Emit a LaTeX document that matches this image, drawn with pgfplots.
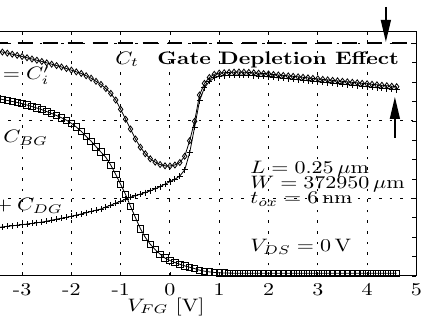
\documentclass[border=0pt]{standalone}
\usepackage{pgfplots}
\pgfplotsset{compat=1.18}
\usepackage{pgfplotstable}
\usepackage{graphicx}
\usetikzlibrary{arrows.meta}
\newcommand{\T}[1]{\scalebox{1.1}[0.9]{#1}}

\pgfplotstableread{
V gg bg sd
-3.6 2.920 2.300 0.617
-3.5 2.905 2.290 0.625
-3.4 2.890 2.278 0.633
-3.3 2.876 2.265 0.641
-3.2 2.862 2.252 0.648
-3.1 2.847 2.239 0.654
-3.0 2.832 2.225 0.662
-2.9 2.816 2.206 0.670
-2.8 2.800 2.187 0.678
-2.7 2.784 2.167 0.687
-2.6 2.768 2.146 0.695
-2.5 2.750 2.121 0.708
-2.4 2.733 2.097 0.720
-2.3 2.715 2.070 0.733
-2.2 2.697 2.042 0.746
-2.1 2.677 2.010 0.756
-2.0 2.656 1.970 0.771
-1.9 2.634 1.922 0.785
-1.8 2.613 1.867 0.800
-1.7 2.584 1.800 0.816
-1.6 2.553 1.740 0.832
-1.5 2.512 1.668 0.848
-1.4 2.472 1.599 0.864
-1.3 2.418 1.530 0.890
-1.2 2.356 1.430 0.914
-1.1 2.270 1.310 0.940
-1.0 2.150 1.182 0.963
-0.9 2.022 1.052 0.990
-0.8 1.896 0.898 1.017
-0.7 1.768 0.753 1.037
-0.6 1.662 0.610 1.056
-0.5 1.577 0.498 1.077
-0.4 1.512 0.410 1.098
-0.3 1.469 0.340 1.125
-0.2 1.438 0.282 1.153
-0.1 1.421 0.231 1.185
0.0 1.419 0.200 1.217
0.1 1.432 0.174 1.248
0.2 1.464 0.151 1.290
0.3 1.545 0.130 1.370
0.4 1.745 0.113 1.590
0.5 1.995 0.095 1.920
0.6 2.335 0.075 2.260
0.7 2.485 0.062 2.430
0.8 2.562 0.053 2.510
0.9 2.602 0.046 2.556
1.0 2.618 0.041 2.577
1.1 2.623 0.039 2.584
1.2 2.627 0.037 2.589
1.3 2.630 0.036 2.592
1.4 2.632 0.036 2.594
1.5 2.630 0.036 2.593
1.6 2.627 0.036 2.590
1.7 2.622 0.036 2.585
1.8 2.617 0.036 2.580
1.9 2.612 0.036 2.575
2.0 2.607 0.036 2.570
2.1 2.600 0.036 2.563
2.2 2.594 0.036 2.557
2.3 2.588 0.036 2.551
2.4 2.582 0.036 2.545
2.5 2.576 0.036 2.539
2.6 2.570 0.036 2.533
2.7 2.564 0.036 2.527
2.8 2.557 0.036 2.520
2.9 2.550 0.036 2.513
3.0 2.544 0.036 2.507
3.1 2.537 0.035 2.500
3.2 2.531 0.035 2.494
3.3 2.525 0.035 2.488
3.4 2.518 0.035 2.481
3.5 2.512 0.035 2.475
3.6 2.506 0.035 2.469
3.7 2.499 0.035 2.462
3.8 2.493 0.035 2.456
3.9 2.486 0.035 2.449
4.0 2.480 0.035 2.443
4.1 2.474 0.035 2.437
4.2 2.467 0.035 2.430
4.3 2.461 0.035 2.424
4.4 2.455 0.035 2.418
4.5 2.449 0.035 2.412
4.6 2.443 0.035 2.406
}\data

\begin{document}
\begin{tikzpicture}
\begin{axis}[
  scale only axis,
  width=209.5pt, height=122.5pt,
  xmin=-3.5, xmax=5, ymin=0, ymax=3.161,
  clip mode=individual,
  xtick={-3,-2,-1,0,1,2,3,4,5},
  xticklabels={\T{-3},\T{-2},\T{-1},\T{0},\T{1},\T{2},\T{3},\T{4},\T{5}},
  ytick={0,1,2,3},
  minor ytick={0.25,0.5,0.75,1.25,1.5,1.75,2.25,2.5,2.75},
  yticklabels={},
  ytick pos=right,
  tick align=inside,
  major tick length=2pt, minor tick length=2pt,
  every tick/.style={black, line width=0.4pt},
  grid=major,
  major grid style={black, line width=0.5pt, dash pattern=on 1.3pt off 4pt},
  axis line style={line width=0.5pt},
  xlabel={\T{$V_{FG}$ [V]}},
  xlabel style={at={(axis description cs:0.402,-0.143)}, anchor=base, inner sep=0pt},
]
\addplot[black, line width=1pt, dash pattern=on 7.5pt off 5pt] coordinates {(-3.6,3) (5,3)};
\addplot[black, line width=0.4pt, mark=square, mark size=1.6pt, mark options={solid, line width=0.4pt}] table[x=V, y=bg] {\data};
\addplot[black, line width=0.4pt, mark=+, mark size=1.5pt, mark options={solid, line width=0.4pt}] table[x=V, y=sd] {\data};
\addplot[black, line width=0.4pt, mark=diamond, mark size=1.5pt, mark options={solid, line width=0.4pt}] table[x=V, y=gg] {\data};

\node[anchor=base west, inner sep=0pt] at (axis cs:-1.116,2.735) {\T{$C_t$}};
\node[anchor=base west, inner sep=0pt] at (axis cs:-0.264,2.735) {\T{\textbf{Gate Depletion Effect}}};
\node[anchor=base east, inner sep=0pt] at (axis cs:-2.434,2.529) {\T{${}=C_i'$}};
\node[anchor=base west, inner sep=0pt] at (axis cs:-3.387,1.716) {\T{$C_{BG}$}};
\node[anchor=base east, inner sep=0pt] at (axis cs:-2.17,0.839) {\T{${}+C_{DG}$}};
\node[anchor=base west, inner sep=0pt] at (axis cs:1.623,1.318) {\T{$L = 0.25\,\mu\mathrm{m}$}};
\node[anchor=base west, inner sep=0pt] at (axis cs:1.623,1.123) {\T{$W = 372950\,\mu\mathrm{m}$}};
\node[anchor=base west, inner sep=0pt] at (axis cs:1.623,0.929) {\T{$t_{ox} = 6\,\mathrm{nm}$}};
\node[anchor=base west, inner sep=0pt] at (axis cs:1.623,0.310) {\T{$V_{DS} = 0\,\mathrm{V}$}};

\draw[line width=0.7pt, -{Triangle[length=11pt,width=5pt]}] (axis cs:4.381,3.471) -- (axis cs:4.381,3.02);
\draw[line width=0.7pt, -{Triangle[length=11pt,width=5pt]}] (axis cs:4.564,1.781) -- (axis cs:4.564,2.31);
\end{axis}
\pgfresetboundingbox
\path[use as bounding box] (1.275pt,-26.5pt) rectangle (214.8pt,138pt);
\end{tikzpicture}
\end{document}
